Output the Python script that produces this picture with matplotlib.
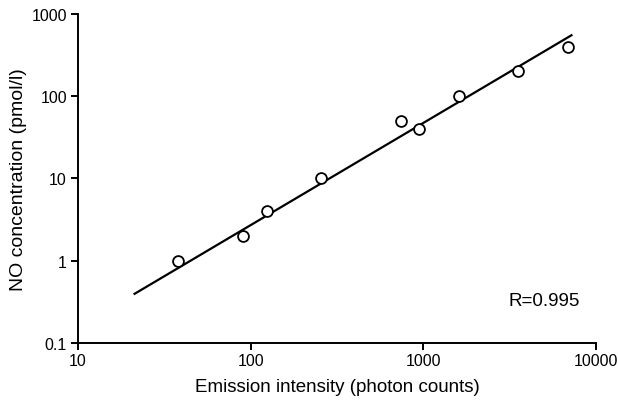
import numpy as np
import matplotlib.pyplot as plt

plt.rcParams['font.family'] = ['Liberation Sans', 'DejaVu Sans']

# NO calibration: emission intensity vs concentration
emission_counts = [38, 90, 124, 255, 740, 945, 1610, 3530, 6870]
no_conc = [1, 2, 4, 10, 50, 40, 100, 200, 400]

# regression line end points
fit_x = [21, 7300]
fit_y = [0.39, 560]

fig = plt.figure(figsize=(6.18, 4.02), dpi=100)
ax = fig.add_axes([0.1262, 0.1443, 0.8382, 0.8184])

ax.plot(fit_x, fit_y, color='black', lw=1.6, solid_capstyle='butt')
ax.plot(emission_counts, no_conc, 'o', ms=7.8, mfc='white', mec='black', mew=1.3)

ax.set_xscale('log')
ax.set_yscale('log')
ax.set_xlim(10, 10000)
ax.set_ylim(0.1, 1000)
ax.set_xticks([10, 100, 1000, 10000])
ax.set_xticklabels(['10', '100', '1000', '10000'])
ax.set_yticks([0.1, 1, 10, 100, 1000])
ax.set_yticklabels(['0.1', '1', '10', '100', '1000'])
ax.minorticks_off()

for side in ['top', 'right']:
    ax.spines[side].set_visible(False)
for side in ['left', 'bottom']:
    ax.spines[side].set_linewidth(1.4)
ax.tick_params(direction='out', length=5, width=1.4, labelsize=11.5, pad=3)
ax.tick_params(axis='x', pad=2.5)

ax.set_xlabel('Emission intensity (photon counts)', fontsize=13.5, labelpad=7)
ax.set_ylabel('NO concentration (pmol/l)', fontsize=14, labelpad=3)
ax.text(0.9, 0.13, 'R=0.995', transform=ax.transAxes, ha='center', va='center', fontsize=13.5)

plt.savefig('out.png', dpi=100)
